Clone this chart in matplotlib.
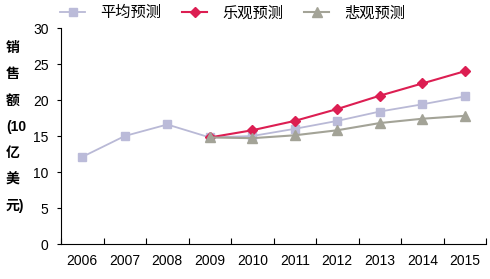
import matplotlib
matplotlib.use("Agg")
import matplotlib.pyplot as plt

plt.rcParams['font.family'] = ['Liberation Sans', 'Noto Sans CJK SC', 'DejaVu Sans']

years = ['2006', '2007', '2008', '2009', '2010', '2011', '2012', '2013', '2014', '2015']
avg = [12.1, 15.0, 16.6, 14.8, 15.0, 16.0, 17.1, 18.4, 19.4, 20.5]
opt = [None, None, None, 14.8, 15.8, 17.1, 18.75, 20.6, 22.3, 24.0]
pes = [None, None, None, 14.8, 14.7, 15.1, 15.8, 16.8, 17.4, 17.8]
series_names = ['平均预测', '乐观预测', '悲观预测']
yticks = [0, 5, 10, 15, 20, 25, 30]

fig = plt.figure(figsize=(4.9, 2.79), dpi=100)
ax = fig.add_axes([0.1245, 0.1254, 0.8675, 0.7742])

x = list(range(len(years)))
xo = [i for i, v in zip(x, opt) if v is not None]

ax.plot(x, avg, color='#B9B9D6', marker='s', markersize=6, linewidth=1.3,
        markerfacecolor='#BBBBD9', markeredgecolor='#BBBBD9', label=series_names[0])
ax.plot(xo, [v for v in opt if v is not None], color='#DC1E52', marker='D', markersize=5.5,
        linewidth=1.5, label=series_names[1])
ax.plot(xo, [v for v in pes if v is not None], color='#A3A397', marker='^', markersize=7,
        linewidth=1.5, label=series_names[2])

ax.set_xlim(-0.5, len(years) - 0.5)
ax.set_ylim(0, 30)
ax.set_yticks(yticks)
ax.set_xticks([i - 0.5 for i in range(len(years) + 1)])
ax.set_xticklabels([])
ax.set_xticks(x, minor=True)
ax.set_xticklabels(years, minor=True)
ax.tick_params(axis='x', which='major', direction='in', length=4)
ax.tick_params(axis='x', which='minor', length=0, pad=7, labelsize=10)
ax.tick_params(axis='y', direction='out', length=3, pad=6, labelsize=10)

for s in ['top', 'right']:
    ax.spines[s].set_visible(False)

fig.text(0.012, 0.545, '销\n售\n额\n(10\n亿\n美\n元)', fontsize=10, fontweight='bold',
         ha='left', va='center', linespacing=2.12)

fig.legend(loc='upper left', bbox_to_anchor=(60 / 490, 0.978), ncol=3, frameon=False,
           fontsize=11, handlelength=1.65, handletextpad=1.0, columnspacing=1.35,
           borderpad=0, borderaxespad=0)

fig.savefig('out.png', dpi=100)
